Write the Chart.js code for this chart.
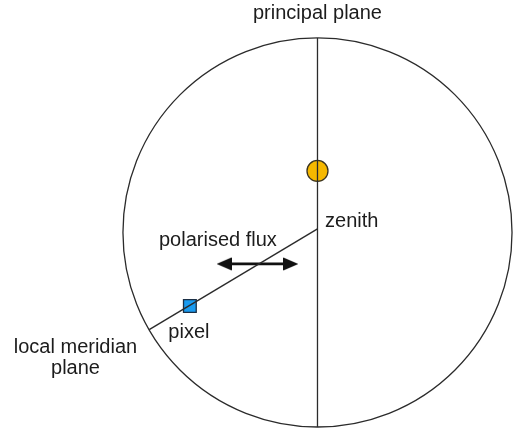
<!DOCTYPE html>
<html>
<head>
<meta charset="utf-8">
<script src="https://cdn.jsdelivr.net/npm/chart.js@4.4.1/dist/chart.umd.min.js"></script>
<style>
  html, body { margin: 0; padding: 0; background: #fff; }
  #wrap { width: 513px; height: 432px; }
</style>
</head>
<body>
<div id="wrap"><canvas id="skyChart" width="513" height="432"></canvas></div>
<script>
// sky dome in units of the horizon radius, zenith at (0, 0)
const horizon = { x: 0, y: 0, r: 1 };
const principalPlane = [{ x: 0, y: 1 }, { x: 0, y: -1 }];
const meridianPlane = [{ x: 0, y: 0.018 }, { x: -0.865, y: -0.5 }];
const sunPos = [{ x: 0, y: 0.316 }];
const pixelPos = [{ x: -0.656, y: -0.378 }];
const fluxArrow = [{ x: -0.480, y: -0.162 }, { x: -0.137, y: -0.162 }];

const labelText = ['principal plane', 'zenith', 'polarised flux', 'pixel', 'local meridian', 'plane'];
const labelX = [0, 0.039, -0.512, -0.661, -1.244, -1.244];
const labelY = [1.128, 0.054, -0.039, -0.512, -0.589, -0.702];
const labelAlign = ['center', 'left', 'center', 'center', 'center', 'center'];

const ink = '#2b2b2b';

// arrowhead sprite pointing right, rotated per end via pointRotation
function makeArrowHead() {
    const c = document.createElement('canvas');
    c.width = 15;
    c.height = 14;
    const g = c.getContext('2d');
    g.fillStyle = '#111';
    g.beginPath();
    g.moveTo(0, 0.5);
    g.lineTo(15, 7);
    g.lineTo(0, 13.5);
    g.closePath();
    g.fill();
    return c;
}
const arrowHead = makeArrowHead();

// horizon circle + text labels, placed through the chart scales
const diagramPlugin = {
    id: 'diagram',
    beforeDatasetsDraw(chart) {
        const { ctx, scales } = chart;
        const cx = scales.x.getPixelForValue(horizon.x);
        const cy = scales.y.getPixelForValue(horizon.y);
        const r = scales.x.getPixelForValue(horizon.r) - cx;
        ctx.save();
        ctx.beginPath();
        ctx.arc(cx, cy, r, 0, Math.PI * 2);
        ctx.strokeStyle = ink;
        ctx.lineWidth = 1.3;
        ctx.stroke();
        ctx.restore();
    },
    afterDatasetsDraw(chart) {
        const { ctx, scales } = chart;
        ctx.save();
        ctx.font = '20px "Liberation Sans", Arial, sans-serif';
        ctx.fillStyle = '#1c1c1c';
        ctx.textBaseline = 'middle';
        labelText.forEach((t, i) => {
            ctx.textAlign = labelAlign[i];
            ctx.fillText(t, scales.x.getPixelForValue(labelX[i]), scales.y.getPixelForValue(labelY[i]));
        });
        ctx.restore();
    }
};

const ctx = document.getElementById('skyChart').getContext('2d');

new Chart(ctx, {
    type: 'scatter',
    data: {
        datasets: [
            {
                data: principalPlane, showLine: true, borderColor: ink, borderWidth: 1.3,
                pointRadius: 0
            },
            {
                data: meridianPlane, showLine: true, borderColor: ink, borderWidth: 1.4,
                pointRadius: 0
            },
            {
                data: fluxArrow, showLine: true, borderColor: '#111', borderWidth: 2.8,
                pointStyle: arrowHead, pointRadius: 8, pointRotation: [180, 0]
            },
            {
                data: sunPos, pointRadius: 10.5, pointBackgroundColor: '#F6B800',
                pointBorderColor: '#3a3320', pointBorderWidth: 1.3
            },
            {
                data: pixelPos, pointStyle: 'rect', pointRadius: 9, pointBackgroundColor: '#1A9BF0',
                pointBorderColor: '#1b2f45', pointBorderWidth: 1.3
            }
        ]
    },
    options: {
        responsive: false,
        animation: false,
        layout: { padding: 0, autoPadding: false },
        clip: false,
        plugins: { legend: { display: false }, tooltip: { enabled: false } },
        scales: {
            x: { type: 'linear', min: -1.632, max: 1.005, display: false },
            y: { type: 'linear', min: -1.026, max: 1.195, display: false }
        }
    },
    plugins: [diagramPlugin]
});
</script>
</body>
</html>
